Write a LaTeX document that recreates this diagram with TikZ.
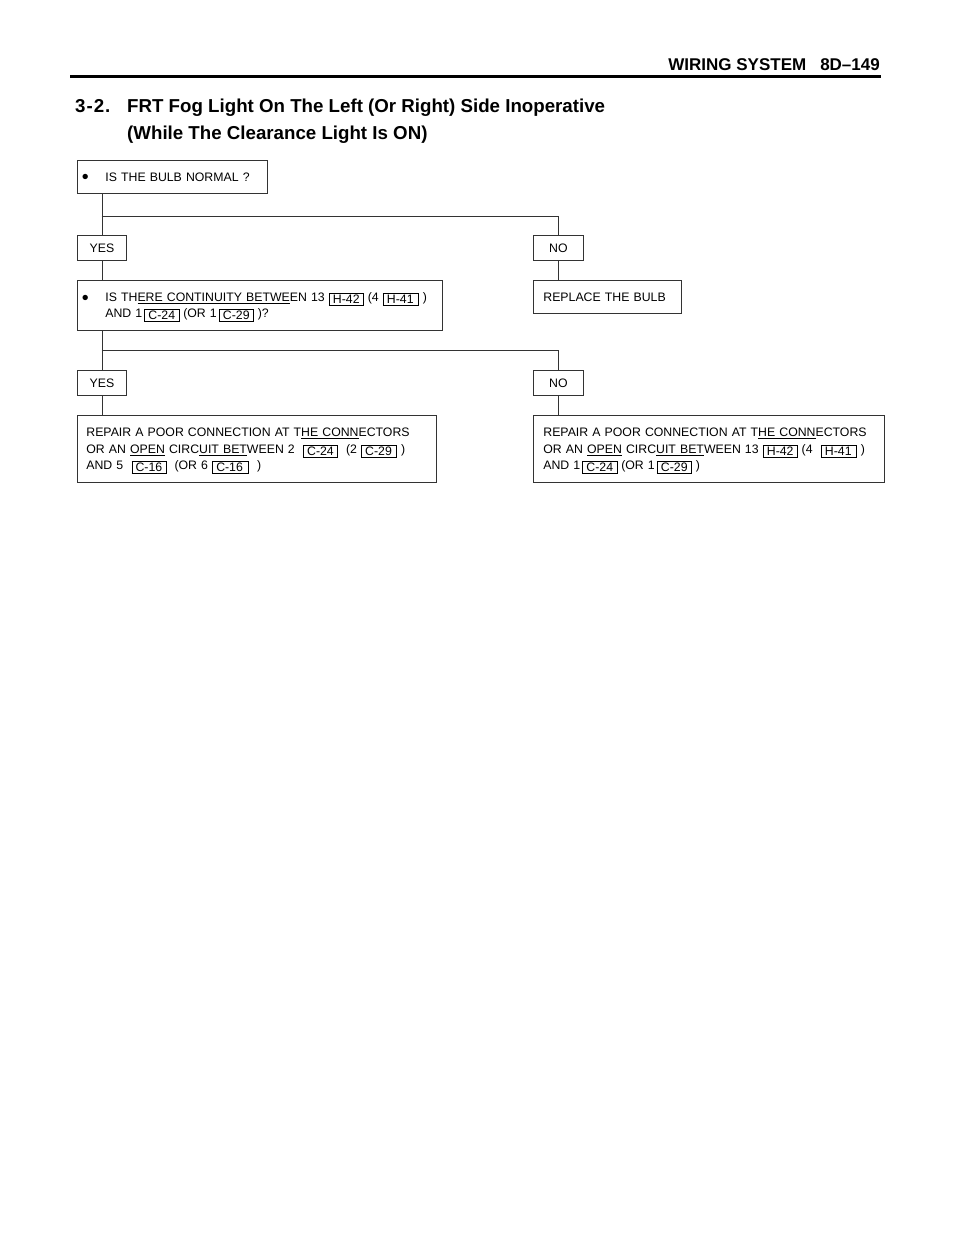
\documentclass[tikz,border=0pt]{standalone}
\usepackage{fontspec}
\setmainfont{Liberation Sans}
\lineskiplimit=-100pt
\newcommand\cn[1]{\raisebox{-2pt}{\setlength\fboxsep{1.5pt}\setlength\fboxrule{0.6pt}\fbox{\hspace{2pt}#1\hspace{2pt}}}}
\newcommand\bul{\makebox[23pt][l]{\hspace{-0.5pt}\raisebox{-2.4pt}{\scalebox{1.6}{\textbullet}}}}
\newcommand\tst{\rule{0pt}{13.3pt}}
\newcommand\bst{\rule[-4.5pt]{0pt}{4.5pt}}
\begin{document}
\begin{tikzpicture}[x=1pt,y=-1pt,
  box/.style={draw=black!80, line width=0.8pt, anchor=north west, inner ysep=0pt,
    align=left, font=\fontsize{12.3}{16.5}\selectfont},
  sbox/.style={draw=black!80, line width=0.8pt, anchor=north west, inner sep=0pt,
    minimum width=49pt, minimum height=25pt, font=\fontsize{12.3}{16}\selectfont},
  ln/.style={draw=black!80, line width=0.8pt}]
\useasboundingbox (0,0) rectangle (960,1250);

% header
\node[anchor=base east, inner sep=0pt, font=\bfseries\fontsize{17}{18}\selectfont] (hdr) at (880,70) {WIRING SYSTEM\hspace{14pt}8D–149};
\coordinate (rl) at (70,76.5);
\coordinate (rr) at (881,76.5);
\draw[line width=2.2pt] (rl) -- (rr);

% title
\node[anchor=base west, inner sep=0pt, font=\bfseries\fontsize{18.7}{20}\selectfont] (tnum) at (75,112) {3\kern1pt-\kern1pt2\kern1pt.};
\node[anchor=base west, inner sep=0pt, font=\bfseries\fontsize{18.7}{20}\selectfont] (t1) at (127,112) {FRT Fog Light On The Left (Or Right) Side Inoperative};
\node[anchor=base west, inner sep=0pt, font=\bfseries\fontsize{18.7}{20}\selectfont] (t2) at (127,139) {(While The Clearance Light Is ON)};

% boxes
\node[box, inner xsep=5pt, text width=180pt, minimum height=33pt] (q1) at (77,160)
  {\tst\bul IS THE BULB NORMAL ?\bst};
\node[sbox] (yes1) at (77,235) {YES};
\node[sbox, minimum width=50pt] (no1) at (533,235) {NO};
\node[box, inner xsep=5pt, text width=355pt, minimum height=50pt, font=\fontsize{12.3}{16}\selectfont] (q2) at (77,280)
  {\tst\bul IS TH\underline{ERE CONTINUITY BETWE}EN 13 \cn{H-42} (4 \cn{H-41\hspace{1pt}} )\\
   \hspace*{23pt}AND 1\,\cn{C-24} (OR 1\,\cn{C-29} )?\bst};
\node[box, inner xsep=10pt, text width=128pt, minimum height=33pt] (rep) at (533,280)
  {\tst REPLACE THE BULB\bst};
\node[sbox] (yes2) at (77,370) {YES};
\node[sbox, minimum width=50pt] (no2) at (533,370) {NO};
\node[box, inner xsep=9pt, text width=341pt, minimum height=67pt] (r1) at (77,415)
  {\tst REPAIR A POOR CONNECTION AT T\underline{HE CONN}ECTORS\\
   OR AN \underline{OPEN} CIRC\underline{UIT BET}WEEN 2 \ \cn{C-24} \ (2 \cn{C-29\hspace{1pt}} )\\
   AND 5 \ \cn{C-16} \ (OR 6 \cn{C-16\hspace{2pt}} \ )\bst};
\node[box, inner xsep=10pt, text width=331pt, minimum height=67pt] (r2) at (533,415)
  {\tst REPAIR A POOR CONNECTION AT T\underline{HE CONN}ECTORS\\
   OR AN \underline{OPEN} CIRC\underline{UIT BET}WEEN 13 \cn{H-42} (4 \ \cn{H-41\hspace{1pt}} )\\
   AND 1\,\cn{C-24} (OR 1\,\cn{C-29} )\bst};

% connectors
\coordinate (j1) at (101.5,216);
\coordinate (j2) at (101.5,350);
\draw[ln] (q1.south -| yes1.north) -- (yes1.north);
\draw[ln] (j1) -| (no1.north);
\draw[ln] (no1.south) -- (no1.south |- rep.north);
\draw[ln] (yes1.south) -- (yes1.south |- q2.north);
\draw[ln] (q2.south -| yes2.north) -- (yes2.north);
\draw[ln] (j2) -| (no2.north);
\draw[ln] (yes2.south) -- (yes2.south |- r1.north);
\draw[ln] (no2.south) -- (no2.south |- r2.north);
\end{tikzpicture}
\end{document}
